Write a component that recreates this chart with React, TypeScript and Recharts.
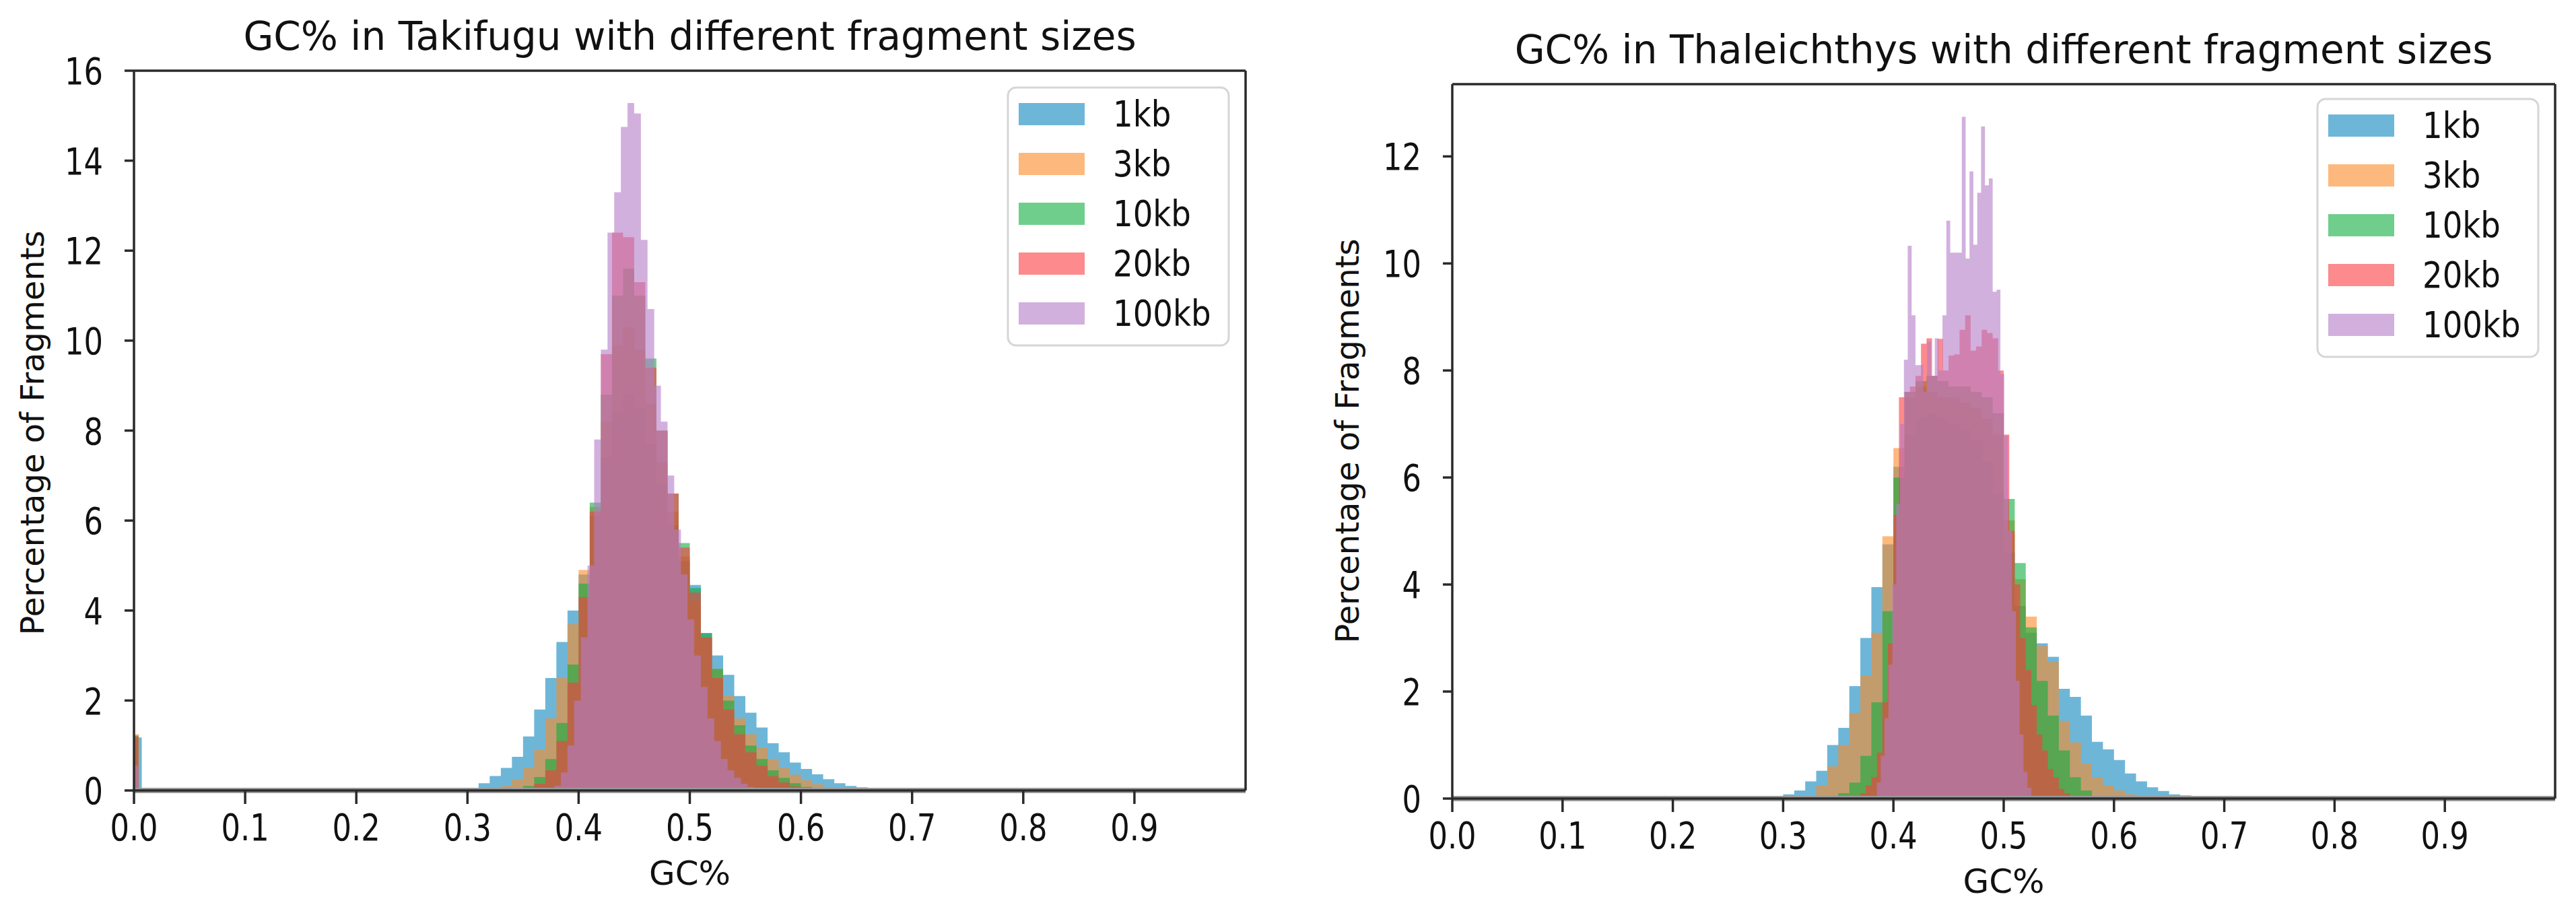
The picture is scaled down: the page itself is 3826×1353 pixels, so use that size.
import React from 'react';
import { ComposedChart, Area, XAxis, YAxis, ReferenceLine } from 'recharts';

// ---------- shared labels / styling ----------
const SERIES_NAMES = ['1kb', '3kb', '10kb', '20kb', '100kb'];
const SERIES_COLORS = ['#0d85be', '#fc8a26', '#11ad3f', '#fc3c3f', '#b47bc8'];
const FILL_OPACITY = 0.6;

const X_TICKS = [0, 0.1, 0.2, 0.3, 0.4, 0.5, 0.6, 0.7, 0.8, 0.9];
const TAKI_Y_TICKS = [0, 2, 4, 6, 8, 10, 12, 14, 16];
const THAL_Y_TICKS = [0, 2, 4, 6, 8, 10, 12];
const TAKI_Y_MAX = 16;
const THAL_Y_MAX = 13.35;

const TAKI_TITLE = 'GC% in Takifugu with different fragment sizes';
const THAL_TITLE = 'GC% in Thaleichthys with different fragment sizes';
const X_LABEL = 'GC%';
const Y_LABEL = 'Percentage of Fragments';

// ---------- Takifugu histograms (bin start, bin width, heights) ----------
const TAKI_BIN_START = [0.3, 0.32, 0.34, 0.35, 0.378];
const TAKI_BIN_WIDTH = [0.01, 0.01, 0.01, 0.01, 0.006];
const TAKI_ZERO_BIN = [1.18, 1.25, 1.22, 1.2, 0.55];
const TAKI_ZERO_WIDTH = [0.007, 0.0045, 0.004, 0.004, 0.004];
const TAKI_1KB = [0.05, 0.16, 0.32, 0.5, 0.75, 1.2, 1.8, 2.5, 3.3, 4.0, 4.8, 6.1, 7.4, 8.4, 8.8, 8.5, 7.7, 6.8, 5.9, 5.1, 4.57, 3.5, 3.0, 2.57, 2.1, 1.73, 1.4, 1.05, 0.85, 0.62, 0.48, 0.36, 0.25, 0.16, 0.1, 0.07, 0.04];
const TAKI_3KB = [0.03, 0.1, 0.25, 0.5, 0.9, 1.6, 2.5, 3.7, 4.9, 6.3, 8.2, 9.9, 10.3, 9.8, 8.6, 7.3, 6.2, 5.2, 4.2, 3.4, 2.7, 2.1, 1.6, 1.25, 0.95, 0.7, 0.5, 0.35, 0.23, 0.14, 0.08, 0.04, 0.02];
const TAKI_10KB = [0.03, 0.1, 0.3, 0.7, 1.5, 2.8, 4.6, 6.4, 8.8, 11.0, 11.6, 11.0, 9.6, 8.0, 6.6, 5.5, 4.5, 3.5, 2.7, 2.0, 1.45, 1.0, 0.7, 0.45, 0.28, 0.16, 0.08, 0.04];
const TAKI_20KB = [0.05, 0.15, 0.45, 1.1, 2.4, 4.3, 6.2, 9.7, 12.4, 12.3, 11.3, 9.4, 8.0, 6.6, 5.4, 4.4, 3.4, 2.5, 1.8, 1.25, 0.85, 0.55, 0.32, 0.18, 0.09, 0.04];
const TAKI_100KB = [0.1, 0.4, 1.0, 2.0, 3.4, 5.0, 7.8, 9.8, 12.4, 13.3, 14.75, 15.28, 15.05, 12.24, 10.7, 9.0, 8.2, 7.0, 5.8, 4.8, 3.8, 3.0, 2.3, 1.6, 1.1, 0.7, 0.45, 0.28, 0.15, 0.08, 0.04, 0.02];

// ---------- Thaleichthys histograms ----------
const THAL_BIN_START = [0.29, 0.32, 0.35, 0.37, 0.385];
const THAL_BIN_WIDTH = [0.01, 0.01, 0.01, 0.005, 0.0035];
const THAL_1KB = [0.04, 0.08, 0.15, 0.32, 0.52, 1.0, 1.32, 2.1, 3.0, 3.95, 4.75, 6.2, 6.8, 7.1, 7.2, 7.1, 7.0, 6.9, 6.7, 6.3, 5.7, 4.6, 3.6, 3.1, 2.9, 2.65, 2.05, 1.9, 1.55, 1.06, 0.92, 0.72, 0.47, 0.32, 0.21, 0.14, 0.08, 0.06, 0.04, 0.03, 0.02];
const THAL_3KB = [0.05, 0.24, 0.6, 1.0, 1.6, 2.3, 3.1, 4.9, 6.55, 7.5, 7.7, 7.6, 7.5, 7.5, 7.4, 7.3, 7.1, 6.8, 5.2, 4.1, 3.4, 2.85, 2.55, 1.45, 1.05, 0.65, 0.4, 0.25, 0.15, 0.08, 0.04, 0.02];
const THAL_10KB = [0.1, 0.3, 0.8, 1.8, 3.5, 6.0, 7.6, 7.8, 7.9, 7.8, 7.7, 7.7, 7.6, 7.5, 7.2, 5.6, 4.4, 3.2, 2.2, 1.55, 0.9, 0.4, 0.15, 0.05];
const THAL_20KB = [0.1, 0.25, 0.4, 0.86, 1.8, 2.9, 5.3, 7.5, 7.6, 7.7, 7.9, 8.5, 8.6, 7.9, 8.59, 8.0, 8.28, 8.3, 8.76, 9.03, 8.37, 8.45, 8.76, 8.7, 8.6, 8.0, 6.8, 5.0, 4.0, 3.0, 2.4, 1.75, 1.2, 0.9, 0.55, 0.4, 0.18, 0.1, 0.04];
const THAL_100KB = [0.3, 0.8, 1.5, 2.5, 4.0, 5.5, 7.0, 8.2, 10.33, 9.03, 8.1, 8.1, 7.6, 8.54, 7.9, 8.6, 8.0, 9.03, 10.8, 10.2, 10.2, 10.2, 12.74, 10.09, 11.72, 10.35, 11.32, 12.56, 11.46, 11.59, 9.47, 9.51, 7.93, 6.78, 5.0, 3.5, 2.2, 1.2, 0.5, 0.2];

type Pt = { x: number; y: number };

function buildHist(start: number, width: number, values: number[], zero?: number, zeroWidth?: number): Pt[] {
  const pts: Pt[] = [];
  if (zero != null && zeroWidth != null) {
    pts.push({ x: 0, y: zero });
    pts.push({ x: zeroWidth, y: 0 });
  }
  values.forEach((v, i) => pts.push({ x: +(start + i * width).toFixed(5), y: v }));
  pts.push({ x: +(start + values.length * width).toFixed(5), y: 0 });
  return pts;
}

const TAKI_SERIES = [TAKI_1KB, TAKI_3KB, TAKI_10KB, TAKI_20KB, TAKI_100KB].map((vals, i) =>
  buildHist(TAKI_BIN_START[i], TAKI_BIN_WIDTH[i], vals, TAKI_ZERO_BIN[i], TAKI_ZERO_WIDTH[i])
);
const THAL_SERIES = [THAL_1KB, THAL_3KB, THAL_10KB, THAL_20KB, THAL_100KB].map((vals, i) =>
  buildHist(THAL_BIN_START[i], THAL_BIN_WIDTH[i], vals)
);

const FONT = 'DejaVu Sans, Verdana, sans-serif';
const TEXT_COLOR = '#111';
const SPINE = '#2a2a2a';

const XTick = (props: any) => {
  const { x, y, payload } = props;
  return (
    <g transform={`translate(${x},${y})`}>
      <text textAnchor="middle" dy="0.73em" fontSize={56} fontFamily={FONT} fill={TEXT_COLOR} transform="scale(0.8,1)">
        {Number(payload.value).toFixed(1)}
      </text>
    </g>
  );
};

const YTick = (props: any) => {
  const { x, y, payload } = props;
  return (
    <g transform={`translate(${x},${y})`}>
      <text textAnchor="end" dy="0.36em" fontSize={56} fontFamily={FONT} fill={TEXT_COLOR} transform="scale(0.8,1)">
        {String(payload.value)}
      </text>
    </g>
  );
};

type PanelProps = {
  left: number;
  width: number;
  height: number;
  margin: { top: number; right: number; bottom: number; left: number };
  yAxisWidth: number;
  yMax: number;
  yTicks: number[];
  series: Pt[][];
};

function Panel(p: PanelProps) {
  return (
    <div style={{ position: 'absolute', left: p.left, top: 0, width: p.width, height: p.height }}>
      <ComposedChart width={p.width} height={p.height} margin={p.margin}>
        <XAxis
          type="number"
          dataKey="x"
          domain={[0, 1]}
          ticks={X_TICKS}
          allowDataOverflow
          height={150}
          tickSize={20}
          tickMargin={13}
          tick={<XTick />}
          axisLine={{ stroke: SPINE, strokeWidth: 3.5 }}
          tickLine={{ stroke: SPINE, strokeWidth: 3.5 }}
          interval={0}
        />
        <YAxis
          type="number"
          dataKey="y"
          domain={[0, p.yMax]}
          ticks={p.yTicks}
          allowDataOverflow
          width={p.yAxisWidth}
          tickSize={14}
          tickMargin={32}
          tick={<YTick />}
          axisLine={{ stroke: SPINE, strokeWidth: 3.5 }}
          tickLine={{ stroke: SPINE, strokeWidth: 3.5 }}
          interval={0}
        />
        {p.series.map((data, i) => (
          <Area
            key={SERIES_NAMES[i]}
            name={SERIES_NAMES[i]}
            data={data}
            dataKey="y"
            type="stepAfter"
            fill={SERIES_COLORS[i]}
            fillOpacity={FILL_OPACITY}
            stroke="none"
            isAnimationActive={false}
            dot={false}
            activeDot={false}
          />
        ))}
        <ReferenceLine y={0} stroke="#9a9a9a" strokeWidth={8} />
        <ReferenceLine y={p.yMax} stroke={SPINE} strokeWidth={3.5} />
        <ReferenceLine x={1} stroke={SPINE} strokeWidth={3.5} />
      </ComposedChart>
    </div>
  );
}

function LegendBox({ x, y }: { x: number; y: number }) {
  return (
    <g>
      <rect x={x} y={y} width={328} height={383} rx={12} ry={12} fill="#fff" fillOpacity={0.8} stroke="#d6d6d6" strokeWidth={3} />
      {SERIES_NAMES.map((name, i) => (
        <g key={name}>
          <rect x={x + 16} y={y + 23 + i * 74} width={98} height={33} fill={SERIES_COLORS[i]} fillOpacity={FILL_OPACITY} />
          <g transform={`translate(${x + 156},${y + 39 + i * 74})`}>
            <text dy="0.36em" fontSize={53} fontFamily={FONT} fill={TEXT_COLOR} transform="scale(0.88,1)">
              {name}
            </text>
          </g>
        </g>
      ))}
    </g>
  );
}

export default function App() {
  return (
    <div style={{ position: 'absolute', left: 0, top: 0, width: 3826, height: 1353, background: '#fff', overflow: 'hidden' }}>
      <Panel
        left={0}
        width={1900}
        height={1353}
        margin={{ top: 105, right: 50, bottom: 29, left: 0 }}
        yAxisWidth={199}
        yMax={TAKI_Y_MAX}
        yTicks={TAKI_Y_TICKS}
        series={TAKI_SERIES}
      />
      <Panel
        left={1900}
        width={1926}
        height={1353}
        margin={{ top: 125, right: 31, bottom: 17, left: 0 }}
        yAxisWidth={257}
        yMax={THAL_Y_MAX}
        yTicks={THAL_Y_TICKS}
        series={THAL_SERIES}
      />
      <svg width={3826} height={1353} style={{ position: 'absolute', left: 0, top: 0, pointerEvents: 'none' }}>
        <text x={1024.5} y={74} textAnchor="middle" fontSize={58} fontFamily={FONT} fill={TEXT_COLOR}>{TAKI_TITLE}</text>
        <text x={2976} y={94} textAnchor="middle" fontSize={58} fontFamily={FONT} fill={TEXT_COLOR}>{THAL_TITLE}</text>
        <text x={1024.5} y={1314} textAnchor="middle" fontSize={50} fontFamily={FONT} fill={TEXT_COLOR}>{X_LABEL}</text>
        <text x={2976} y={1326} textAnchor="middle" fontSize={50} fontFamily={FONT} fill={TEXT_COLOR}>{X_LABEL}</text>
        <g transform="translate(48,643) rotate(-90)">
          <text textAnchor="middle" dominantBaseline="central" fontSize={48} fontFamily={FONT} fill={TEXT_COLOR}>{Y_LABEL}</text>
        </g>
        <g transform="translate(2001,655) rotate(-90)">
          <text textAnchor="middle" dominantBaseline="central" fontSize={48} fontFamily={FONT} fill={TEXT_COLOR}>{Y_LABEL}</text>
        </g>
        <LegendBox x={1497} y={130} />
        <LegendBox x={3442} y={147} />
      </svg>
    </div>
  );
}
